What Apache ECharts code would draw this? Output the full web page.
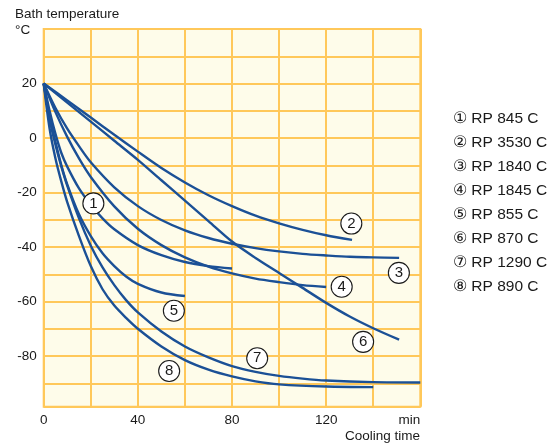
<!DOCTYPE html>
<html><head><meta charset="utf-8">
<script src="https://cdn.jsdelivr.net/npm/echarts@6/dist/echarts.min.js"></script>
<style>html,body{margin:0;padding:0;background:#fff}#c{width:560px;height:447px}</style>
</head><body><div id="c"></div>
<script>
// Series names (legend)
const seriesNames = ['① RP 845 C','② RP 3530 C','③ RP 1840 C','④ RP 1845 C','⑤ RP 855 C','⑥ RP 870 C','⑦ RP 1290 C','⑧ RP 890 C'];

// Cooling curves: time (min) and bath temperature (°C)
const time1 = [0,2.5,5,7.5,10,15,20,25,30,40,50,60,70,80];
const temp1 = [20,10,1.5,-5.5,-10.5,-18.5,-24.5,-29.5,-33.5,-39.3,-43,-45.5,-47,-47.9];
const time2 = [0,10,20,30,40,50,60,70,80,90,100,110,120,131];
const temp2 = [20,13.8,7.5,1.2,-5,-11,-16.3,-21,-25,-28.5,-31.3,-33.7,-35.7,-37.4];
const time3 = [0,5,10,15,20,30,40,50,60,70,80,90,100,110,120,130,140,151];
const temp3 = [20,11,3.4,-3,-8.9,-18.1,-25,-30.1,-33.9,-36.7,-38.8,-40.4,-41.6,-42.5,-43.1,-43.6,-43.8,-44];
const time4 = [0,5,10,15,20,30,40,50,60,70,80,90,100,110,120];
const temp4 = [20,9.5,0.4,-7.5,-14.3,-25.1,-33.3,-39.3,-43.8,-47.2,-49.7,-51.6,-52.9,-54,-54.7];
const time5 = [0,2.5,5,7.5,10,15,20,25,30,35,40,50,60];
const temp5 = [20,8,-1.5,-10,-17,-28,-36,-42.3,-47,-50.8,-53.5,-56.7,-58];
const time6 = [0,10,20,30,40,50,60,70,80,90,100,110,120,130,140,151];
const temp6 = [20,13,6,-1,-8,-15.5,-23,-30.5,-38,-44,-49.5,-55,-60.5,-65.5,-69.8,-74];
const time7 = [0,2.5,5,7.5,10,15,20,25,30,35,40,50,60,70,80,90,100,110,120,140,160];
const temp7 = [20,7,-2.5,-10.5,-17.5,-29.5,-39.5,-47.5,-54,-59.5,-64,-71,-76.5,-80.5,-83.7,-85.8,-87.3,-88.3,-89,-89.6,-89.7];
const time8 = [0,2.5,5,7.5,10,15,20,25,30,35,40,50,60,70,80,90,100,120,140];
const temp8 = [20,3.5,-7.5,-16,-23.5,-36,-47,-55.5,-61.5,-66,-70,-76.5,-81.5,-85,-87.5,-89.3,-90.4,-91.2,-91.4];

// Circled curve numbers placed on the chart
const markerText = ['1','2','3','4','5','6','7','8'];
const markerX = [21.1,130.7,150.9,126.6,55.3,135.7,90.7,53.3];
const markerY = [-24,-31.4,-49.5,-54.6,-63.4,-74.8,-80.8,-85.5];

// Axis ticks
const xMin = 0, xMax = 160, xStep = 20, xLabelStep = 40, xUnitLabel = 'min';
const yMin = -98.6, yMax = 40, yLabelStep = 20, yLabelMax = 20;

const times = [time1,time2,time3,time4,time5,time6,time7,time8];
const temps = [temp1,temp2,temp3,temp4,temp5,temp6,temp7,temp8];

const FONT = 'Liberation Sans, Arial, sans-serif';
const LINE = '#1b5096';
const GRIDC = '#ffc85a';

const series = seriesNames.map((n, i) => ({
  name: n,
  type: 'line',
  smooth: 0.3,
  showSymbol: false,
  symbol: 'none',
  data: times[i].map((t, j) => [t, temps[i][j]]),
  lineStyle: { color: LINE, width: 2.4 },
  itemStyle: { color: LINE },
  z: 2
}));
series.push({
  type: 'scatter',
  name: 'markers',
  symbol: 'circle',
  symbolSize: 21,
  data: markerX.map((x, i) => ({ value: [x, markerY[i]], label: { formatter: markerText[i] } })),
  itemStyle: { color: '#fff', borderColor: '#1a1a1a', borderWidth: 1.1, opacity: 1 },
  label: { show: true, position: 'inside', color: '#1a1a1a', fontSize: 15, fontFamily: FONT },
  z: 5
});

const chart = echarts.init(document.getElementById('c'), null, { renderer: 'canvas' });
chart.setOption({
  animation: false,
  backgroundColor: '#fff',
  grid: {
    left: 43.7, top: 29, right: 139.7, bottom: 40.3,
    show: true, backgroundColor: '#fefcea', borderColor: GRIDC, borderWidth: 2
  },
  legend: {
    data: seriesNames,
    orient: 'vertical',
    left: 443, top: 102,
    itemWidth: 0, itemHeight: 0, itemGap: 0,
    icon: 'circle',
    selectedMode: false,
    textStyle: { color: '#1a1a1a', fontSize: 15.5, fontFamily: FONT, lineHeight: 23.9 }
  },
  xAxis: {
    type: 'value', min: xMin, max: xMax, interval: xStep,
    axisLine: { show: false }, axisTick: { show: false },
    splitLine: { show: true, lineStyle: { color: GRIDC, width: 2 } },
    axisLabel: {
      color: '#1a1a1a', fontSize: 13.5, fontFamily: FONT, margin: 7,
      alignMaxLabel: 'right',
      formatter: v => v === xMax ? xUnitLabel : (v % xLabelStep === 0 ? String(v) : '')
    }
  },
  yAxis: {
    type: 'value', min: yMin, max: yMax, splitNumber: 14,
    axisLine: { show: false }, axisTick: { show: false },
    splitLine: { show: true, lineStyle: { color: GRIDC, width: 2 } },
    axisLabel: {
      color: '#1a1a1a', fontSize: 13.5, fontFamily: FONT, margin: 7,
      formatter: v => {
        const r = Math.round(v);
        if (Math.abs(v - r) > 1e-6) return '';
        if (r % yLabelStep !== 0 || r > yLabelMax) return '';
        return String(r);
      }
    }
  },
  graphic: [
    { type: 'text', left: 15, top: 7, style: { text: 'Bath temperature', fill: '#1a1a1a', font: '13.5px ' + FONT } },
    { type: 'text', left: 15, top: 23, style: { text: '°C', fill: '#1a1a1a', font: '13.5px ' + FONT } },
    { type: 'text', right: 140, top: 429, style: { text: 'Cooling time', fill: '#1a1a1a', font: '13.5px ' + FONT } }
  ],
  series: series
});
</script></body></html>
